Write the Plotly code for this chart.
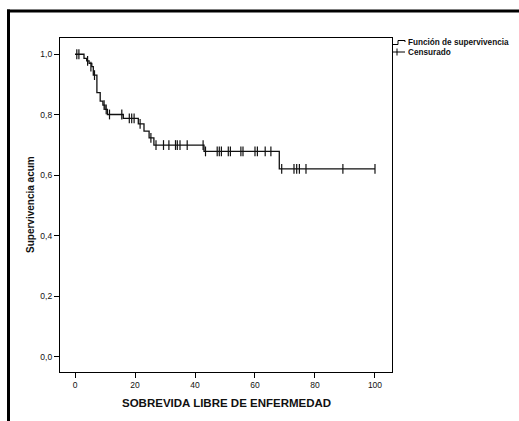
import plotly.graph_objects as go

# Kaplan-Meier step function (event times and survival level after each event)
step_times = [0, 3.0, 3.9, 4.7, 5.6, 6.1, 7.3, 8.4, 9.3, 10.0, 10.8, 16.1, 21.1, 23.0, 24.7, 26.3, 43.0, 68.1, 100]
step_surv = [1.0, 0.986, 0.978, 0.970, 0.959, 0.931, 0.873, 0.845, 0.832, 0.818, 0.801, 0.788, 0.770, 0.746, 0.724, 0.700, 0.679, 0.621, 0.621]

# Censored observations
cens_times = [0.6, 1.3, 4.2, 5.3, 6.5, 9.7, 10.4, 11.5, 15.6, 18.1, 18.9, 19.7, 21.7, 25.3,
              27.0, 29.5, 31.3, 33.5, 34.1, 35.0, 37.4, 42.7,
              43.5, 47.4, 48.1, 48.8, 51.1, 51.8, 55.3, 56.0, 60.0, 60.8, 63.4, 65.3,
              68.9, 73.0, 73.9, 74.8, 77.0, 89.3, 100.0]
cens_surv = [1.0, 1.0, 0.978, 0.959, 0.931, 0.832, 0.818, 0.801, 0.801, 0.788, 0.788, 0.788, 0.770, 0.724,
             0.700, 0.700, 0.700, 0.700, 0.700, 0.700, 0.700, 0.700,
             0.679, 0.679, 0.679, 0.679, 0.679, 0.679, 0.679, 0.679, 0.679, 0.679, 0.679, 0.679,
             0.621, 0.621, 0.621, 0.621, 0.621, 0.621, 0.621]

x_ticks = [0, 20, 40, 60, 80, 100]
y_ticks = [0.0, 0.2, 0.4, 0.6, 0.8, 1.0]
y_ticktext = ["0,0", "0,2", "0,4", "0,6", "0,8", "1,0"]

legend_names = ["Función de supervivencia", "Censurado"]
x_title = "SOBREVIDA LIBRE DE ENFERMEDAD"
y_title = "Supervivencia acum"

W, H = 519, 421
L, R, T, B = 60, 392, 38, 372
FONT = "Liberation Sans, Arial"

fig = go.Figure()
fig.add_trace(go.Scatter(x=step_times, y=step_surv, mode="lines", line=dict(shape="hv", color="#111", width=1.3),
                         showlegend=False, hoverinfo="skip"))
fig.add_trace(go.Scatter(x=cens_times, y=cens_surv, mode="markers",
                         marker=dict(symbol="line-ns-open", size=7, color="#111", line=dict(color="#111", width=1.2)),
                         showlegend=False))

def px(xp):  # page x -> paper
    return (xp - L) / (R - L)

def py(yp):  # page y -> paper
    return (B - yp) / (B - T)

shapes = []
# outer frame (top and left thick lines)
shapes.append(dict(type="line", xref="paper", yref="paper", x0=px(7), x1=px(522), y0=py(11), y1=py(11),
                   line=dict(color="black", width=3)))
shapes.append(dict(type="line", xref="paper", yref="paper", x0=px(8.5), x1=px(8.5), y0=py(9.5), y1=py(425),
                   line=dict(color="black", width=3)))
# legend symbols
shapes.append(dict(type="path", xref="paper", yref="paper",
                   path=f"M {px(392)},{py(44.5)} L {px(398)},{py(44.5)} L {px(398)},{py(40.5)} L {px(405)},{py(40.5)} L {px(405)},{py(42)}",
                   line=dict(color="black", width=1)))
shapes.append(dict(type="line", xref="paper", yref="paper", x0=px(392), x1=px(405), y0=py(52), y1=py(52),
                   line=dict(color="black", width=1)))
shapes.append(dict(type="line", xref="paper", yref="paper", x0=px(397), x1=px(397), y0=py(48.5), y1=py(55.5),
                   line=dict(color="black", width=1)))

annotations = [
    dict(text=legend_names[0], xref="paper", yref="paper", x=px(406), y=py(43), xanchor="left", yanchor="middle",
         showarrow=False, font=dict(family=FONT, size=8.2, color="#111", weight="bold")),
    dict(text=legend_names[1], xref="paper", yref="paper", x=px(406), y=py(52), xanchor="left", yanchor="middle",
         showarrow=False, font=dict(family=FONT, size=8.2, color="#111", weight="bold")),
    dict(text=x_title, xref="paper", yref="paper", x=0.5, y=py(403), xanchor="center", yanchor="middle",
         showarrow=False, font=dict(family=FONT, size=11.5, color="#111", weight="bold")),
    dict(text=y_title, xref="paper", yref="paper", x=px(30), y=0.5, xanchor="center", yanchor="middle",
         textangle=-90, showarrow=False, font=dict(family=FONT, size=10, color="#111", weight="bold")),
]

fig.update_layout(
    width=W, height=H,
    margin=dict(l=L, r=W - R, t=T, b=H - B),
    paper_bgcolor="white", plot_bgcolor="white",
    font=dict(family=FONT, color="#111"),
    shapes=shapes, annotations=annotations,
    showlegend=False,
)
fig.update_xaxes(range=[-5.0, 105.67], tickvals=x_ticks, ticks="outside", ticklen=5, tickcolor="black",
                 showline=True, linecolor="black", linewidth=1.2, mirror=True, showgrid=False, zeroline=False,
                 automargin=False, tickfont=dict(size=8.5, color="#111"))
fig.update_yaxes(range=[-0.0496, 1.0536], tickvals=y_ticks, ticktext=y_ticktext, ticks="outside", ticklen=5,
                 tickcolor="black", showline=True, linecolor="black", linewidth=1.2, mirror=True, showgrid=False,
                 zeroline=False, automargin=False, tickfont=dict(size=8.5, color="#111"))

fig.write_html("out.html", config={"displayModeBar": False},
               post_script="document.body.style.margin='0';document.body.style.overflow='hidden';")
